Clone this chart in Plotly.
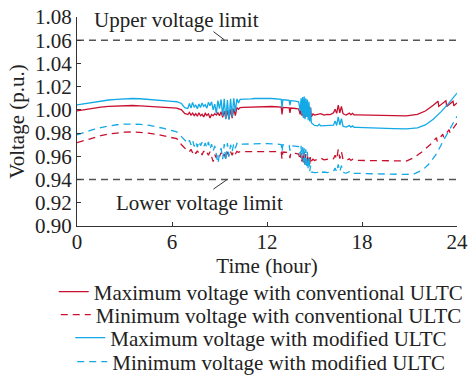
import plotly.graph_objects as go

# ---------------- data ----------------
t_rmax = [0, 0.5, 1, 1.5, 2, 2.5, 3, 3.5, 4, 4.5, 5, 5.5, 6, 6.3, 6.6, 6.8, 7.0,
          7.1, 7.2, 7.3, 7.4, 7.5, 7.6, 7.7, 7.8, 7.9, 8.0, 8.1, 8.2, 8.3, 8.4, 8.5, 8.6, 8.7, 8.8, 8.9,
          9.0, 9.1, 9.2, 9.3, 9.4, 9.5, 9.6, 9.7, 9.8, 9.9, 10.0, 10.1, 10.2, 10.3,
          10.5, 10.8, 11.0, 11.2, 11.5, 11.8, 12.0, 12.3, 12.5, 12.8, 12.9, 12.95, 13.0, 13.2, 13.4, 13.45, 13.5, 13.8, 14.0,
          14.1, 14.15, 14.2, 14.25, 14.3, 14.35, 14.4, 14.45, 14.5, 14.55, 14.6, 14.65, 14.7, 14.75, 14.8, 14.9,
          15.0, 15.2, 15.4, 15.6, 15.8, 16.0, 16.2, 16.3, 16.4, 16.5, 16.6, 16.7, 16.8, 16.9, 17.0, 17.2, 17.3, 17.4, 17.5, 17.7,
          18, 19, 20, 20.8, 21.5, 22, 22.5, 22.8, 22.85, 23.3, 23.35, 23.75, 23.8, 24]
v_rmax = [0.9991, 1.0003, 1.0014, 1.0023, 1.0030, 1.0034, 1.0037, 1.0038, 1.0035, 1.0030, 1.0025, 1.0021, 1.0018, 1.0015, 1.0000, 0.9970, 0.9960,
          0.9978, 0.9955, 0.9972, 0.9950, 0.9968, 0.9945, 0.9975, 0.9950, 0.9962, 0.9940, 0.9970, 0.9952, 0.9966, 0.9930, 0.9960, 0.9950, 0.9968, 0.9955, 0.9975,
          0.9950, 0.9985, 0.9935, 0.9990, 0.9925, 0.9995, 0.9920, 1.0005, 0.9930, 1.0010, 0.9950, 1.0020, 1.0005, 1.0020,
          1.0022, 1.0024, 1.0023, 1.0026, 1.0028, 1.0030, 1.0030, 1.0029, 1.0027, 1.0024, 1.0023, 0.9960, 1.0022, 1.0020, 1.0018, 0.9975, 1.0016, 1.0012, 1.0008,
          0.9960, 1.0030, 0.9950, 1.0040, 0.9940, 1.0045, 0.9930, 1.0040, 0.9950, 1.0035, 0.9940, 1.0030, 0.9935, 1.0020, 0.9940, 0.9965,
          0.9955, 0.9960, 0.9968, 0.9955, 0.9962, 0.9960, 0.9975, 1.0005, 0.9970, 1.0040, 0.9975, 1.0030, 0.9968, 0.9960, 0.9955, 0.9972, 0.9958, 0.9970, 0.9958, 0.9957,
          0.9956, 0.9953, 0.9950, 0.9948, 0.9962, 0.9990, 1.0040, 1.0075, 1.0030, 1.0078, 1.0030, 1.0075, 1.0035, 1.0060]

t_bmax = [0, 0.5, 1, 1.5, 2, 2.5, 3, 3.5, 4, 4.5, 5, 5.5, 6, 6.3, 6.6, 6.8, 7.0,
          7.1, 7.2, 7.3, 7.4, 7.5, 7.6, 7.7, 7.8, 7.9, 8.0, 8.1, 8.2, 8.3, 8.4, 8.5, 8.6, 8.7, 8.8, 8.9,
          9.0, 9.1, 9.2, 9.3, 9.4, 9.5, 9.6, 9.7, 9.8, 9.9, 10.0, 10.1, 10.2, 10.3,
          10.5, 10.8, 11.0, 11.2, 11.5, 11.8, 12.0, 12.3, 12.5, 12.8, 12.9, 12.95, 13.0, 13.2, 13.4, 13.45, 13.5, 13.8, 14.0,
          14.1, 14.15, 14.2, 14.25, 14.3, 14.35, 14.4, 14.45, 14.5, 14.55, 14.6, 14.65, 14.7, 14.75, 14.8, 14.9,
          15.0, 15.2, 15.3, 15.4, 15.6, 15.8, 16.0, 16.2, 16.3, 16.4, 16.5, 16.6, 16.7, 16.8, 16.9, 17.0, 17.2, 17.3, 17.4, 17.5, 17.7,
          18, 19, 20, 20.8, 21.5, 22, 22.5, 23, 23.5, 24]
v_bmax = [1.0043, 1.0055, 1.0066, 1.0077, 1.0085, 1.0091, 1.0096, 1.0098, 1.0096, 1.0092, 1.0086, 1.0080, 1.0074, 1.0070, 1.0055, 1.0020, 1.0012,
          1.0055, 1.0015, 1.0065, 1.0025, 1.0040, 1.0010, 1.0050, 1.0020, 1.0060, 1.0030, 1.0045, 1.0015, 1.0065, 1.0035, 1.0070, 1.0000, 1.0050, 0.9970, 1.0080,
          1.0010, 1.0090, 0.9950, 1.0095, 0.9920, 1.0085, 0.9915, 1.0095, 0.9940, 1.0100, 0.9985, 1.0095, 1.0060, 1.0090,
          1.0090, 1.0093, 1.0095, 1.0098, 1.0100, 1.0102, 1.0100, 1.0098, 1.0096, 1.0092, 1.0090, 1.0020, 1.0088, 1.0085, 1.0082, 1.0040, 1.0080, 1.0075, 1.0070,
          0.9990, 1.0100, 0.9960, 1.0110, 0.9930, 1.0115, 0.9920, 1.0100, 0.9940, 1.0090, 0.9910, 1.0070, 0.9900, 1.0020, 0.9890, 0.9875,
          0.9866, 0.9862, 0.9876, 0.9862, 0.9864, 0.9860, 0.9862, 0.9868, 0.9905, 0.9866, 0.9940, 0.9870, 0.9925, 0.9860, 0.9855, 0.9852, 0.9865, 0.9852, 0.9862, 0.9850, 0.9849,
          0.9847, 0.9843, 0.9839, 0.9836, 0.9845, 0.9870, 0.9920, 0.9985, 1.0060, 1.0145]

t_rmin = [0, 0.5, 1, 1.5, 2, 2.5, 3, 3.5, 4, 4.5, 5, 5.5, 6, 6.3, 6.6, 6.8, 7.0,
          7.1, 7.2, 7.3, 7.4, 7.5, 7.6, 7.7, 7.8, 7.9, 8.0, 8.1, 8.2, 8.3, 8.4, 8.5, 8.6, 8.7, 8.8, 8.9,
          9.0, 9.1, 9.2, 9.3, 9.4, 9.5, 9.6, 9.7, 9.8, 9.9, 10.0, 10.1, 10.2, 10.3,
          10.5, 10.8, 11.0, 11.5, 12.0, 12.5, 12.8, 12.9, 12.95, 13.0, 13.4, 13.45, 13.5, 13.8, 14.0,
          14.1, 14.15, 14.2, 14.25, 14.3, 14.35, 14.4, 14.45, 14.5, 14.55, 14.6, 14.65, 14.7, 14.75, 14.8, 14.9,
          15.0, 15.2, 15.4, 15.6, 15.8, 16.0, 16.2, 16.3, 16.4, 16.5, 16.6, 16.7, 16.8, 16.9, 17.0, 17.2, 17.3, 17.4, 17.5, 17.7,
          18, 19, 20, 20.8, 21.3, 21.8, 22.3, 22.7, 22.75, 23.1, 23.15, 23.5, 23.55, 24]
v_rmin = [0.9718, 0.9740, 0.9760, 0.9778, 0.9792, 0.9802, 0.9808, 0.9810, 0.9808, 0.9800, 0.9790, 0.9776, 0.9762, 0.9752, 0.9700, 0.9672, 0.9655,
          0.9640, 0.9660, 0.9630, 0.9652, 0.9622, 0.9648, 0.9626, 0.9640, 0.9612, 0.9645, 0.9620, 0.9635, 0.9610, 0.9640, 0.9595, 0.9554, 0.9615, 0.9585, 0.9628,
          0.9598, 0.9632, 0.9590, 0.9618, 0.9578, 0.9638, 0.9598, 0.9640, 0.9610, 0.9648, 0.9620, 0.9642, 0.9635, 0.9640,
          0.9640, 0.9642, 0.9642, 0.9645, 0.9645, 0.9642, 0.9640, 0.9638, 0.9575, 0.9637, 0.9632, 0.9585, 0.9630, 0.9625, 0.9620,
          0.9570, 0.9630, 0.9555, 0.9625, 0.9545, 0.9640, 0.9530, 0.9620, 0.9540, 0.9610, 0.9520, 0.9590, 0.9535, 0.9600, 0.9560, 0.9575,
          0.9565, 0.9575, 0.9585, 0.9570, 0.9575, 0.9572, 0.9580, 0.9610, 0.9575, 0.9660, 0.9580, 0.9640, 0.9575, 0.9568, 0.9565, 0.9578, 0.9565, 0.9575, 0.9566, 0.9565,
          0.9565, 0.9563, 0.9560, 0.9560, 0.9590, 0.9640, 0.9700, 0.9760, 0.9730, 0.9790, 0.9765, 0.9830, 0.9805, 0.9885]

t_bmin = [0, 0.5, 1, 1.5, 2, 2.5, 3, 3.5, 4, 4.5, 5, 5.5, 6, 6.3, 6.6, 6.8, 7.0,
          7.1, 7.2, 7.3, 7.4, 7.5, 7.6, 7.7, 7.8, 7.9, 8.0, 8.1, 8.2, 8.3, 8.4, 8.5, 8.6, 8.7, 8.8, 8.9,
          9.0, 9.1, 9.2, 9.3, 9.4, 9.5, 9.6, 9.7, 9.8, 9.9, 10.0, 10.1, 10.2, 10.3,
          10.5, 10.8, 11.0, 11.5, 12.0, 12.5, 12.8, 12.9, 12.95, 13.0, 13.4, 13.45, 13.5, 13.8, 14.0,
          14.1, 14.15, 14.2, 14.25, 14.3, 14.35, 14.4, 14.45, 14.5, 14.55, 14.6, 14.65, 14.7, 14.75, 14.8, 14.9,
          15.0, 15.2, 15.3, 15.4, 15.6, 15.8, 16.0, 16.2, 16.3, 16.4, 16.5, 16.6, 16.7, 16.8, 16.9, 17.0, 17.2, 17.3, 17.4, 17.5, 17.7,
          18, 19, 20, 20.8, 21.3, 21.8, 22.2, 22.7, 23.2, 23.6, 24]
v_bmin = [0.9784, 0.9810, 0.9830, 0.9848, 0.9862, 0.9872, 0.9877, 0.9878, 0.9876, 0.9868, 0.9856, 0.9840, 0.9822, 0.9810, 0.9770, 0.9740, 0.9712,
          0.9738, 0.9700, 0.9740, 0.9685, 0.9725, 0.9680, 0.9730, 0.9692, 0.9720, 0.9680, 0.9715, 0.9672, 0.9725, 0.9660, 0.9705, 0.9645, 0.9690, 0.9600, 0.9540,
          0.9620, 0.9670, 0.9575, 0.9705, 0.9560, 0.9715, 0.9600, 0.9700, 0.9640, 0.9712, 0.9670, 0.9710, 0.9695, 0.9705,
          0.9705, 0.9707, 0.9708, 0.9710, 0.9710, 0.9707, 0.9704, 0.9702, 0.9640, 0.9700, 0.9695, 0.9650, 0.9692, 0.9688, 0.9683,
          0.9610, 0.9690, 0.9580, 0.9680, 0.9550, 0.9670, 0.9520, 0.9660, 0.9500, 0.9640, 0.9490, 0.9600, 0.9470, 0.9520, 0.9465, 0.9462,
          0.9460, 0.9462, 0.9475, 0.9462, 0.9465, 0.9460, 0.9462, 0.9470, 0.9500, 0.9465, 0.9530, 0.9470, 0.9520, 0.9462, 0.9458, 0.9455, 0.9467, 0.9455, 0.9463, 0.9454, 0.9453,
          0.9452, 0.9450, 0.9447, 0.9444, 0.9450, 0.9480, 0.9530, 0.9620, 0.9750, 0.9850, 0.9945]

limits = [1.06, 0.94]
limit_labels = ["Upper voltage limit", "Lower voltage limit"]
names = ["Maximum voltage with conventional ULTC",
         "Minimum voltage with conventional ULTC",
         "Maximum voltage with modified ULTC",
         "Minimum voltage with modified ULTC"]
x_ticks = [0, 6, 12, 18, 24]

RED = "#C8102E"
BLUE = "#12A9E6"
FONT = "Liberation Serif, Times New Roman, serif"
FS = 21

fig = go.Figure()
series = [(t_rmax, v_rmax, RED, "solid"),
          (t_rmin, v_rmin, RED, "7px,5px"),
          (t_bmax, v_bmax, BLUE, "solid"),
          (t_bmin, v_bmin, BLUE, "7px,5px")]
legend_ids = ["legend", "legend2", "legend3", "legend4"]
for (t, v, c, d), nm, lg in zip(series, names, legend_ids):
    fig.add_trace(go.Scatter(x=t, y=v, mode="lines", name=nm, legend=lg,
                             line=dict(color=c, width=1.3, dash=d)))

for lim in limits:
    fig.add_trace(go.Scatter(x=[0, 24], y=[lim, lim], mode="lines", showlegend=False,
                             line=dict(color="#555555", width=1.5, dash="7px,5px")))

# leader lines
fig.add_shape(type="line", x0=8.62, y0=1.0674, x1=9.3, y1=1.0604, line=dict(color="#333", width=1))
fig.add_shape(type="line", x0=8.62, y0=0.9318, x1=9.46, y1=0.9398, line=dict(color="#333", width=1))

fig.add_annotation(x=6.3, y=1.0777, text=limit_labels[0], showarrow=False,
                   font=dict(family=FONT, size=FS, color="#222"))
fig.add_annotation(x=7.75, y=0.9197, text=limit_labels[1], showarrow=False,
                   font=dict(family=FONT, size=FS, color="#222"))

legend_y = [0.2255, 0.1645, 0.1034, 0.0398]
leg_common = dict(x=0.557, xref="container", yref="container", xanchor="center", yanchor="middle",
                  bgcolor="rgba(0,0,0,0)", font=dict(family=FONT, size=FS, color="#222"),
                  itemwidth=30, borderwidth=0)
fig.update_layout(
    width=469, height=377,
    margin=dict(l=77, r=12, t=17, b=151, autoexpand=False),
    plot_bgcolor="white", paper_bgcolor="white",
    font=dict(family=FONT, size=FS, color="#222"),
    legend=dict(y=legend_y[0], **leg_common),
    legend2=dict(y=legend_y[1], **leg_common),
    legend3=dict(y=legend_y[2], **leg_common),
    legend4=dict(y=legend_y[3], **leg_common),
    xaxis=dict(range=[0, 24], tickvals=x_ticks, ticks="inside", ticklen=4, tickcolor="#333",
               showline=True, linecolor="#333", linewidth=1.2, showgrid=False, zeroline=False,
               ticklabelstandoff=-3, automargin=False,
               title=dict(text="Time (hour)", standoff=4, font=dict(family=FONT, size=FS)),
               tickfont=dict(family=FONT, size=FS)),
    yaxis=dict(range=[0.90, 1.08], dtick=0.02, tickformat=".2f", ticks="inside", ticklen=4, tickcolor="#333",
               showline=True, linecolor="#333", linewidth=1.2, showgrid=False, zeroline=False,
               automargin=False,
               title=dict(text="Voltage (p.u.)", standoff=4, font=dict(family=FONT, size=FS)),
               tickfont=dict(family=FONT, size=FS)),
)

fig.write_html("out.html")
